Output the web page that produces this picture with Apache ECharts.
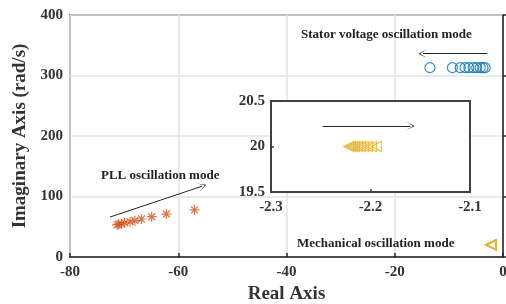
<!DOCTYPE html>
<html>
<head>
<meta charset="utf-8">
<script src="https://cdn.jsdelivr.net/npm/echarts@6/dist/echarts.min.js"></script>
<style>
  html, body { margin: 0; padding: 0; background: #fff; }
  #chart { width: 506px; height: 304px; }
</style>
</head>
<body>
<div id="chart"></div>
<script>
// stator voltage oscillation mode (blue circles)
const statorX = [-13.5, -9.35, -7.9, -7.0, -6.3, -5.5, -4.85, -4.2, -3.7, -3.3]
const statorY = [313, 313, 313, 313, 313, 313, 313, 313, 313, 313]
// PLL oscillation mode (orange asterisks)
const pllX = [-57.0, -62.2, -64.9, -66.8, -68.0, -68.9, -69.9, -70.5, -71.0, -71.3]
const pllY = [78, 71, 66.6, 62.8, 60, 58.3, 56.7, 55, 54, 53]
// mechanical oscillation mode (yellow triangles)
const mechX = [-2.222, -2.220, -2.218, -2.216, -2.213, -2.210, -2.207, -2.203, -2.199, -2.194]
const mechY = [20, 20, 20, 20, 20, 20, 20, 20, 20, 20]

// arrows, in data coordinates
const statorArrow = [[-2.9, 336], [-14.8, 336]]
const pllArrow = [[-72.6, 66], [-55.6, 117]]
const mechArrow = [[-2.248, 20.225], [-2.160, 20.225]]

const xTicks = { min: -80, max: 0, interval: 20 }
const yTicks = { min: 0, max: 400, interval: 100 }
const insetXTicks = { min: -2.3, max: -2.1, interval: 0.1 }
const insetYTicks = { min: 19.5, max: 20.5, interval: 0.5 }

const pairs = (xs, ys) => xs.map((x, i) => [x, ys[i]])

const FONT = 'Liberation Serif'
const TXT = '#333333'
const AXIS = '#262626'
const starPath = 'path://M5,0L5,10M0,5L10,5M1.5,1.5L8.5,8.5M1.5,8.5L8.5,1.5'
const arrowHead = 'path://M0,10L5,0L10,10L5,2Z'

function arrowLine (seg) {
  return {
    silent: true,
    symbol: ['none', arrowHead],
    symbolSize: [9, 9],
    lineStyle: { color: AXIS, width: 1, type: 'solid' },
    label: { show: false },
    emphasis: { disabled: true },
    data: [[{ coord: seg[0] }, { coord: seg[1] }]]
  }
}

const tickLabel = { fontFamily: FONT, fontWeight: 'bold', fontSize: 15, color: TXT }

const chart = echarts.init(document.getElementById('chart'), null, { renderer: 'canvas' })

chart.setOption({
  animation: false,
  backgroundColor: '#fff',
  grid: [
    { left: 70, right: 3, top: 15, bottom: 47, containLabel: false, outerBoundsMode: 'none', show: true, borderColor: AXIS, borderWidth: 1.5, backgroundColor: 'transparent' },
    { left: 271, top: 101, width: 199, height: 91, containLabel: false, outerBoundsMode: 'none', show: true, borderColor: '#404040', borderWidth: 2, backgroundColor: '#fff', z: 5 }
  ],
  xAxis: [
    {
      type: 'value', gridIndex: 0, ...xTicks,
      name: 'Real Axis', nameLocation: 'middle', nameGap: 27,
      nameTextStyle: { fontFamily: FONT, fontWeight: 'bold', fontSize: 19, color: TXT },
      axisLine: { show: true, lineStyle: { color: AXIS, width: 1.5 } },
      axisTick: { show: true, inside: true, length: 4, lineStyle: { color: AXIS, width: 1.5 } },
      axisLabel: { ...tickLabel, margin: 8 },
      splitLine: { show: true, lineStyle: { color: '#e3e3e3', width: 1.5 } }
    },
    {
      type: 'value', gridIndex: 1, ...insetXTicks, z: 10,
      axisLine: { show: true, lineStyle: { color: '#404040', width: 2 } },
      axisTick: { show: true, inside: true, length: 3, lineStyle: { color: '#404040', width: 1.5 } },
      axisLabel: { ...tickLabel, margin: 8, formatter: v => v.toFixed(1) },
      splitLine: { show: false }
    }
  ],
  yAxis: [
    {
      type: 'value', gridIndex: 0, ...yTicks,
      name: 'Imaginary Axis (rad/s)', nameLocation: 'middle', nameGap: 36,
      nameTextStyle: { fontFamily: FONT, fontWeight: 'bold', fontSize: 19, color: TXT },
      axisLine: { show: true, lineStyle: { color: AXIS, width: 1.5 } },
      axisTick: { show: true, inside: true, length: 4, lineStyle: { color: AXIS, width: 1.5 } },
      axisLabel: { ...tickLabel, margin: 7 },
      splitLine: { show: true, lineStyle: { color: '#e3e3e3', width: 1.5 } }
    },
    {
      type: 'value', gridIndex: 1, ...insetYTicks, z: 10,
      axisLine: { show: true, lineStyle: { color: '#404040', width: 2 } },
      axisTick: { show: true, inside: true, length: 3, lineStyle: { color: '#404040', width: 1.5 } },
      axisLabel: { ...tickLabel, margin: 6, formatter: v => String(v) },
      splitLine: { show: false }
    }
  ],
  series: [
    {
      name: 'Stator', type: 'scatter', xAxisIndex: 0, yAxisIndex: 0,
      data: pairs(statorX, statorY),
      symbol: 'circle', symbolSize: 10,
      itemStyle: { color: 'rgba(255,255,255,0)', borderColor: '#0072BD', borderWidth: 1.2 },
      markLine: arrowLine(statorArrow)
    },
    {
      name: 'PLL', type: 'scatter', xAxisIndex: 0, yAxisIndex: 0,
      data: pairs(pllX, pllY),
      symbol: starPath, symbolSize: 10,
      itemStyle: { color: 'rgba(255,255,255,0)', borderColor: '#D95319', borderWidth: 1.2 },
      markLine: arrowLine(pllArrow)
    },
    {
      name: 'Mechanical', type: 'scatter', xAxisIndex: 0, yAxisIndex: 0,
      data: pairs(mechX, mechY),
      symbol: 'triangle', symbolRotate: 90, symbolSize: 10,
      itemStyle: { color: 'rgba(255,255,255,0)', borderColor: '#EDB120', borderWidth: 1.2 }
    },
    {
      name: 'Mechanical (zoom)', type: 'scatter', xAxisIndex: 1, yAxisIndex: 1, z: 12,
      data: pairs(mechX, mechY),
      symbol: 'triangle', symbolRotate: 90, symbolSize: 10,
      itemStyle: { color: 'rgba(255,255,255,0)', borderColor: '#EDB120', borderWidth: 1.2 },
      markLine: arrowLine(mechArrow)
    }
  ],
  graphic: [
    { type: 'text', left: 301, top: 28, z: 20, style: { text: 'Stator voltage oscillation mode', font: 'bold 13px "Liberation Serif"', fill: '#222' } },
    { type: 'text', left: 101, top: 169, z: 20, style: { text: 'PLL oscillation mode', font: 'bold 13px "Liberation Serif"', fill: '#222' } },
    { type: 'text', left: 297, top: 237, z: 20, style: { text: 'Mechanical oscillation mode', font: 'bold 13px "Liberation Serif"', fill: '#222' } }
  ]
})
</script>
</body>
</html>
